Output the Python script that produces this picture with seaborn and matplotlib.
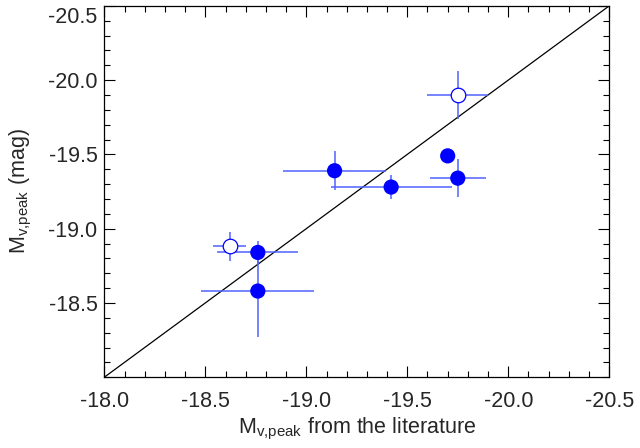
import numpy as np
import pandas as pd
import seaborn as sns
import matplotlib.pyplot as plt
import matplotlib.transforms as mtransforms
from matplotlib.ticker import MultipleLocator

# literature peak magnitude vs our measurement
lit_mag = [-19.75, -19.70, -19.75, -19.14, -19.42, -18.62, -18.76, -18.76]
our_mag = [-19.90, -19.49, -19.34, -19.39, -19.28, -18.88, -18.84, -18.58]
lit_err = [0.15, 0.0, 0.14, 0.255, 0.30, 0.08, 0.20, 0.28]
our_err = [0.16, 0.0, 0.13, 0.13, 0.08, 0.10, 0.08, 0.31]
is_open = [True, False, False, False, False, True, False, False]

df = pd.DataFrame({"lit": lit_mag, "ours": our_mag, "xerr": lit_err,
                   "yerr": our_err, "open": is_open})

sns.set_style("ticks")
plt.rcParams['font.family'] = ['Liberation Sans', 'DejaVu Sans']
plt.rcParams['mathtext.fontset'] = 'custom'
plt.rcParams['mathtext.rm'] = 'Liberation Sans'
plt.rcParams['mathtext.it'] = 'Liberation Sans'

fig = plt.figure(figsize=(6.4, 4.48), dpi=100)
ax = fig.add_axes([0.163, 0.158, 0.789, 0.829])

# one-to-one line
ax.plot([-18.0, -20.5], [-18.0, -20.5], color='black', lw=0.9, zorder=1)

# error bars
has_err = df[(df.xerr > 0) | (df.yerr > 0)]
ax.errorbar(has_err.lit, has_err.ours, xerr=has_err.xerr, yerr=has_err.yerr,
            fmt='none', ecolor='#4f63ff', elinewidth=1.1, capsize=0, zorder=2)

filled = df[~df.open]
hollow = df[df.open]
sns.scatterplot(data=filled, x="lit", y="ours", ax=ax, color='#0000ff',
                s=120, edgecolor='none', zorder=3, legend=False)
sns.scatterplot(data=hollow, x="lit", y="ours", ax=ax, facecolor='white',
                edgecolor='#0000ff', linewidth=0.9, s=110, zorder=3, legend=False)

ax.set_xlim(-18.0, -20.5)
ax.set_ylim(-18.0, -20.5)
ax.set_xticks([-18.0, -18.5, -19.0, -19.5, -20.0, -20.5])
ax.set_yticks([-18.5, -19.0, -19.5, -20.0, -20.5])
ax.set_xticklabels(['-18.0', '-18.5', '-19.0', '-19.5', '-20.0', '-20.5'])
ax.set_yticklabels(['-18.5', '-19.0', '-19.5', '-20.0', '-20.5'])
ax.xaxis.set_minor_locator(MultipleLocator(0.1))
ax.yaxis.set_minor_locator(MultipleLocator(0.1))
ax.tick_params(which='both', direction='in', top=True, right=True,
               labelsize=15.5, color='black', width=0.8)
ax.tick_params(which='major', length=8)
ax.tick_params(which='minor', length=4)
ax.tick_params(axis='x', which='major', pad=10)
ax.tick_params(axis='y', which='major', pad=5)
for sp in ax.spines.values():
    sp.set_linewidth(0.9)
    sp.set_color('black')

# top y label sits a bit lower so it stays inside the figure
top_lab = ax.get_yticklabels()[-1]
top_lab.set_transform(top_lab.get_transform() +
                      mtransforms.ScaledTranslation(0, -9 / 100, fig.dpi_scale_trans))

ax.set_xlabel(r'M$_{\rm v{,}peak}$ from the literature', fontsize=15.5, labelpad=3)
ax.set_ylabel(r'M$_{\rm v{,}peak}$ (mag)', fontsize=15.5, labelpad=10)

fig.savefig('out.png', dpi=100)
